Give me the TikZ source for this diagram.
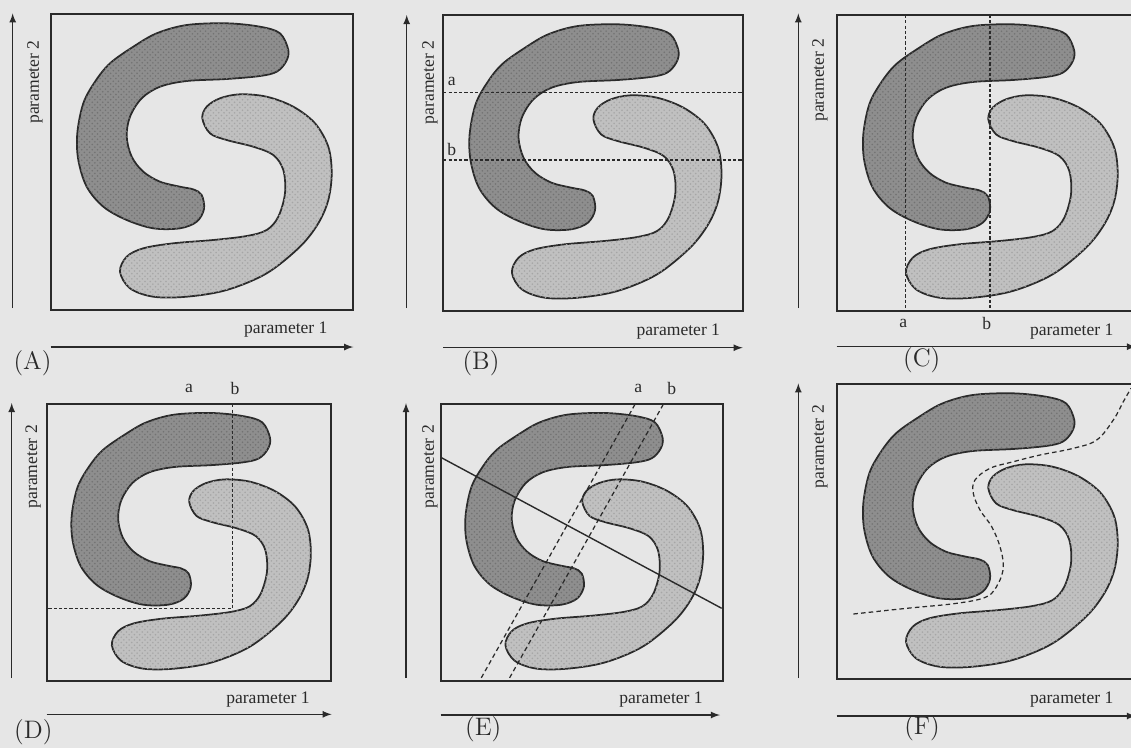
\documentclass[tikz,border=0pt]{standalone}
\usepackage{fontspec}
\newfontfamily\timesfont{Liberation Serif}
\usetikzlibrary{arrows, patterns}

\definecolor{paper}{HTML}{E6E6E6}
\definecolor{ink}{HTML}{2A2A2A}
\definecolor{darkfill}{HTML}{8E8E8E}
\definecolor{lightfill}{HTML}{C0C0C0}

\tikzset{
    darkblob/.style={draw=ink, line width=1pt, fill=darkfill,
        postaction={pattern=crosshatch dots, pattern color=black!55}},
    lightblob/.style={draw=ink, line width=1pt, fill=lightfill,
        postaction={pattern=crosshatch dots, pattern color=black!35}},
    % the two S-shaped clusters, in the frame of panel A (box 302 x 296)
    sshape/.pic={
        \path[darkblob] plot[smooth cycle, tension=0.55] coordinates {
            (237.6,36) (229.3,19.3) (209.3,12.7) (176,9.3) (136,11) (106,19.3)
            (82.6,32.7) (59.3,49.3) (44.3,67.7) (32.6,89.3) (26.6,119.3)
            (27.6,146) (36,172.7) (52.6,192.7) (76,206) (102.6,214.3)
            (129.3,214.3) (146,207.7) (153.3,195) (151,181) (143,175.5)
            (129.3,172.7) (109.3,167.7) (92.6,157.7) (81,142.7) (76,122.7)
            (79.3,102.7) (91,84.3) (109.3,72.7) (136,67) (176,65) (209.3,62)
            (226,57.7) (235.3,47.7)};
        \path[lightblob] plot[smooth cycle, tension=0.55] coordinates {
            (151.6,104.3) (156,92.7) (169.3,84.3) (189.3,80.3) (216,82.7)
            (242.6,92.7) (264.3,109.3) (277.6,132.7) (281,159.3) (277.6,186)
            (267.6,209.3) (249.3,232.7) (216,259.3) (176,276) (136,282.7)
            (102.6,282.7) (79.3,274.3) (69.3,257.7) (76,242.7) (92.6,234.3)
            (122.6,229.3) (162.6,226) (196,222) (216,216) (227.6,202.7)
            (234.3,179.3) (232.6,156) (222.6,141) (202.6,132.7) (176,126)
            (159.3,119.3)};
    }
}

\begin{document}
\begin{tikzpicture}[
        x=0.02cm, y=-0.02cm,
        frame/.style={draw=ink, line width=1pt},
        axis/.style={-latex, draw=ink, line width=0.8pt},
        cut/.style={draw=ink, line width=0.7pt, dash pattern=on 1.8pt off 1.2pt},
        longcut/.style={draw=ink, line width=0.7pt, dash pattern=on 2.6pt off 1.8pt},
        plabel/.style={font=\timesfont, text=ink, inner sep=1pt},
        tag/.style={font=\Large, text=ink, inner sep=1pt}
    ]
    \useasboundingbox (0,0) rectangle (1131,748);
    \fill[paper] (0,0) rectangle (1131,748);

    % Panel A
    \pic at (50.7,14) {sshape};
    \draw[frame] (50.7,14) rectangle (352.7,310);
    \draw[axis] (12.7,308) -- (12.7,13.3);
    \draw[axis] (50.7,347) -- (353.3,347);
    \node[plabel, rotate=90] (yA) at (35,82) {parameter 2};
    \node[plabel] (xA) at (285.8,330) {parameter 1};
    \node[tag] (tA) at (32.5,363.3) {(A)};

    % Panel B
    \pic[xscale=0.99] at (443.3,15) {sshape};
    \draw[cut] (443.3,92.3) -- (742.7,92.3);
    \draw[cut] (443.3,160) -- (742.7,160);
    \draw[frame] (443.3,15) rectangle (742.7,311);
    \node[plabel] (aB) at (451.7,81) {a};
    \node[plabel] (bB) at (451.7,149) {b};
    \draw[axis] (406.7,308) -- (406.7,15);
    \draw[axis] (443.3,347.7) -- (742.7,347.7);
    \node[plabel, rotate=90] (yB) at (430,82.5) {parameter 2};
    \node[plabel] (xB) at (678.3,331.7) {parameter 1};
    \node[tag] (tB) at (481,363) {(B)};

    % Panel C
    \pic at (836.7,15) {sshape};
    \draw[cut] (905.7,15) -- (905.7,311);
    \draw[cut] (990,15) -- (990,311);
    \draw[frame] (836.7,15) rectangle (1137,311);
    \node[plabel] (aC) at (903.3,323.3) {a};
    \node[plabel] (bC) at (986.7,323.3) {b};
    \draw[axis] (798.3,308) -- (798.3,13.3);
    \draw[axis] (836.7,346.7) -- (1136,346.7);
    \node[plabel, rotate=90] (yC) at (820,80) {parameter 2};
    \node[plabel] (xC) at (1071.7,331.7) {parameter 1};
    \node[tag] (tC) at (921.7,360) {(C)};

    % Panel D
    \pic[xscale=0.94, yscale=0.935] at (46.7,404.3) {sshape};
    \draw[cut] (232.3,404.3) -- (232.3,608.3) -- (46.7,608.3);
    \draw[frame] (46.7,404.3) rectangle (330.7,681);
    \node[plabel] (aD) at (189,388.3) {a};
    \node[plabel] (bD) at (235,388.3) {b};
    \draw[axis] (11.7,678) -- (11.7,403);
    \draw[axis] (46.7,714.3) -- (331.7,714.3);
    \node[plabel, rotate=90] (yD) at (33.3,466.7) {parameter 2};
    \node[plabel] (xD) at (268,700) {parameter 1};
    \node[tag] (tD) at (33.3,731.7) {(D)};

    % Panel E
    \pic[xscale=0.934, yscale=0.935] at (440.7,404.3) {sshape};
    \draw[ink, line width=0.8pt] (440.7,457.3) -- (721.7,608.3);
    \draw[longcut] (635,404.3) -- (479.5,681);
    \draw[longcut] (663.3,404.3) -- (507.8,681);
    \draw[frame] (440.7,404.3) rectangle (722.7,681);
    \node[plabel] (aE) at (638.3,388.3) {a};
    \node[plabel] (bE) at (671.7,388.3) {b};
    \draw[axis] (406,678) -- (406,403);
    \draw[axis] (440.7,715) -- (720,715);
    \node[plabel, rotate=90] (yE) at (430,466.7) {parameter 2};
    \node[plabel] (xE) at (661,700) {parameter 1};
    \node[tag] (tE) at (483.3,729) {(E)};

    % Panel F
    \pic at (836.7,384) {sshape};
    \draw[longcut] plot[smooth, tension=0.6] coordinates {
        (853.3,614) (906.7,608.3) (956.7,603.3) (986.7,596.7) (998.3,583.3)
        (1003.3,566.7) (1000,546.7) (991.7,526.7) (980,510) (973.3,493.3)
        (975,480) (990,468.3) (1013.3,461.7) (1040,455) (1073.3,448.3)
        (1096.7,440) (1113.3,420) (1123.3,401.7) (1131,388.3)};
    \draw[frame] (836.7,384) rectangle (1137,679.3);
    \draw[axis] (798.3,678) -- (798.3,383.3);
    \draw[axis] (836.7,716) -- (1136,716);
    \node[plabel, rotate=90] (yF) at (820,446.7) {parameter 2};
    \node[plabel] (xF) at (1071.7,700) {parameter 1};
    \node[tag] (tF) at (922,728) {(F)};
\end{tikzpicture}
\end{document}
